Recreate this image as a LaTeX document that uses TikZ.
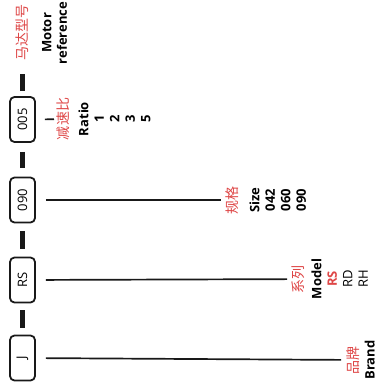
\documentclass[tikz,border=0pt]{standalone}
\usepackage{fontspec}
\setmainfont{Open Sans}
\newfontfamily\cjk{Noto Sans CJK SC}
\usepackage{xcolor}
\definecolor{mkred}{RGB}{222,70,70}
\definecolor{mkblack}{RGB}{25,25,25}
\newcommand{\cnred}[1]{{\cjk\mdseries\fontsize{14}{15}\selectfont\color{mkred}#1}}
\usetikzlibrary{calc}
\tikzset{
  codebox/.style={draw=mkblack, line width=1.8pt, rounded corners=4.5pt, rotate=90,
                  minimum width=45pt, minimum height=25pt, inner sep=0pt,
                  font=\fontsize{13}{14}\selectfont},
  codelbl/.style={rotate=90, anchor=north, align=center, inner sep=0pt,
                  font=\fontsize{13}{15.5}\selectfont\bfseries},
  codebar/.style={draw=mkblack, line width=5.5pt, shorten <=#1, shorten >=#1},
  leader/.style={draw=mkblack, line width=1.7pt},
}

\begin{document}
\begin{tikzpicture}[x=1pt, y=-1pt]
\useasboundingbox (0,0) rectangle (381,390);

% code boxes
\node[codebox] (b005) at (22.5,119.5) {005};
\node[codebox] (b090) at (22.5,200) {090};
\node[codebox] (bRS)  at (22.5,280) {RS};
\node[codebox] (bJ)   at (22.5,358) {J};

% labels
\node[codelbl] (motor) at (16,33) {\cnred{马达型号}\\[8pt]Motor\\reference};
\node[codelbl] (ratio) at (57,119) {\cnred{减速比}\\[4pt]Ratio\\1\\2\\3\\5};
\node[codelbl] (size)  at (226,200) {\cnred{规格}\\[6pt]Size\\042\\060\\090};
\node[codelbl] (model) at (292,279) {\cnred{系列}\\[2pt]Model\\{\color{mkred}RS}\\{\mdseries RD}\\{\mdseries RH}};
\node[codelbl] (brand) at (346,360) {\cnred{品牌}\\[1pt]Brand};

% bars between the parts
\draw[codebar=0pt, shorten <=5pt, shorten >=10pt] (b005) -- (b005 |- motor.west);
\draw[codebar=9pt] (b005) -- (b090);
\draw[codebar=8pt] (b090) -- (bRS);
\draw[codebar=7pt] (bRS) -- (bJ);

% leaders to the labels
\draw[leader, shorten <=9pt, shorten >=3pt] (b005) -- (ratio);
\draw[leader, shorten <=10pt, shorten >=5pt] (b090) -- (size);
\draw[leader, shorten <=10pt, shorten >=5pt] (bRS) -- (model);
\draw[leader, shorten <=10pt, shorten >=5pt] (bJ) -- (brand);

\end{tikzpicture}
\end{document}
